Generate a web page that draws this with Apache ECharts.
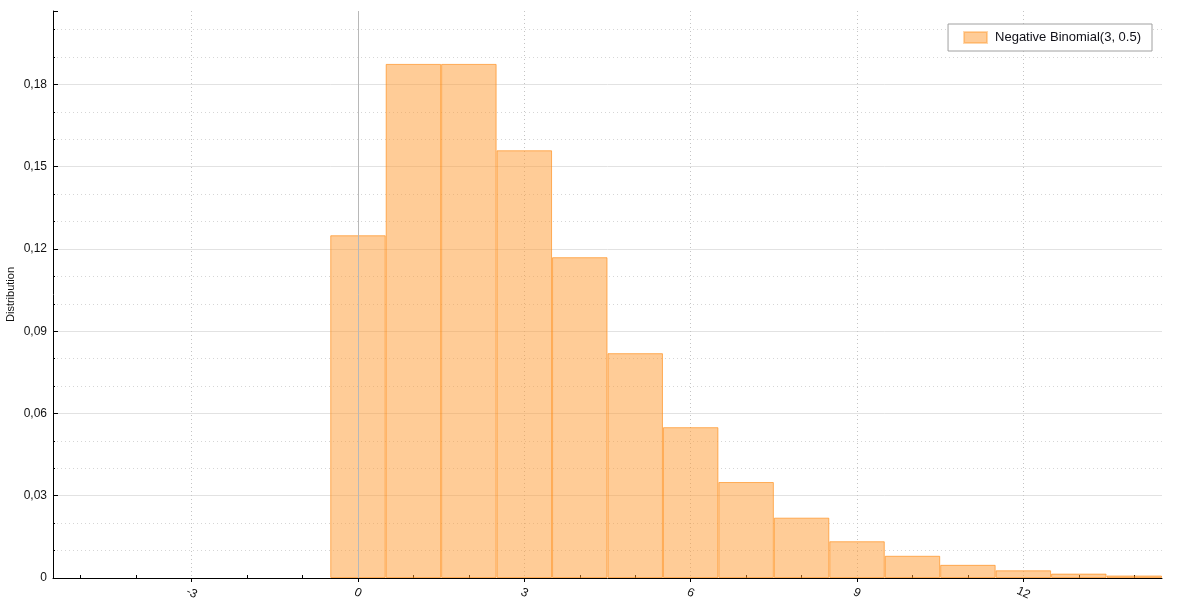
<!DOCTYPE html>
<html>
<head>
<meta charset="utf-8">
<script src="https://cdn.jsdelivr.net/npm/echarts@6/dist/echarts.min.js"></script>
<style>
    html, body { margin: 0; padding: 0; background: #fff; }
    #chart { width: 1180px; height: 609px; }
</style>
</head>
<body>
<div id="chart"></div>
<script>
// values
const seriesName = 'Negative Binomial(3, 0.5)'
const kValues = [0, 1, 2, 3, 4, 5, 6, 7, 8, 9, 10, 11, 12, 13, 14]
const probValues = [0.125, 0.1875, 0.1875, 0.156, 0.117, 0.082, 0.055, 0.035, 0.022, 0.0134, 0.0081, 0.0048, 0.0028, 0.0016, 0.0009]
const yAxisTitle = 'Distribution'

const font = 'Liberation Sans, Arial, sans-serif'
const chart = echarts.init(document.getElementById('chart'))

const barData = kValues.map((k, i) => [k, probValues[i]])

const option = {
    animation: false,
    backgroundColor: '#fff',
    textStyle: { fontFamily: font },
    grid: { left: 53, right: 18, top: 11, bottom: 31, outerBoundsMode: 'none', containLabel: false },
    legend: {
        right: 28,
        top: 24,
        orient: 'horizontal',
        padding: [7, 11, 7, 15],
        borderColor: '#a0a0a0',
        borderWidth: 1,
        backgroundColor: '#fff',
        itemWidth: 23,
        itemHeight: 11,
        itemGap: 10,
        textStyle: { fontSize: 13, color: '#101018', fontFamily: font, padding: [0, 0, 0, 3] },
        itemStyle: { borderColor: 'rgba(255, 140, 20, 0.35)' },
        data: [{ name: seriesName, icon: 'rect' }]
    },
    xAxis: [
        {
            type: 'value',
            min: -5.5,
            max: 14.5,
            splitNumber: 7,
            axisLine: { onZero: false, lineStyle: { color: '#000', width: 1 } },
            axisTick: { show: true, inside: false, length: 4, lineStyle: { color: '#000' } },
            axisLabel: {
                color: '#111',
                fontSize: 12,
                rotate: -25,
                align: 'center',
                margin: 15,
                showMinLabel: false,
                showMaxLabel: false,
                formatter: (v) => String(v)
            },
            splitLine: {
                show: true,
                showMinLine: false,
                showMaxLine: false,
                lineStyle: { color: '#c4c4c4', type: [1, 3], width: 1 }
            }
        },
        {
            // only carries the small inner ticks
            type: 'value',
            position: 'bottom',
            min: -5.5,
            max: 14.5,
            splitNumber: 7,
            axisLine: { show: false },
            axisTick: { show: false, inside: true },
            axisLabel: { show: false },
            splitLine: { show: false },
            minorTick: { show: true, splitNumber: 3, length: 3, lineStyle: { color: '#000' } }
        }
    ],
    yAxis: {
        type: 'value',
        min: 0,
        max: 0.2068,
        interval: 0.03,
        name: yAxisTitle,
        nameLocation: 'middle',
        nameGap: 37,
        nameMoveOverlap: false,
        nameTextStyle: { fontSize: 11, color: '#111' },
        axisLine: { show: true, onZero: false, lineStyle: { color: '#000', width: 1 } },
        axisTick: { show: true, inside: true, length: 5, lineStyle: { color: '#000' } },
        minorTick: { show: true, splitNumber: 3, length: 2, lineStyle: { color: '#000' } },
        axisLabel: {
            color: '#111',
            fontSize: 12,
            margin: 6,
            showMaxLabel: false,
            formatter: (v) => String(Number(v.toFixed(4))).replace('.', ',')
        },
        splitLine: {
            show: true,
            showMaxLine: false,
            lineStyle: { color: '#e2e2e2', width: 1 }
        },
        minorSplitLine: {
            show: true,
            lineStyle: { color: '#d6d6d6', type: [1, 3], width: 1 }
        }
    },
    series: [
        {
            name: seriesName,
            type: 'bar',
            xAxisIndex: 0,
            yAxisIndex: 0,
            barWidth: '100%',
            data: barData,
            itemStyle: {
                color: 'rgba(255, 154, 48, 0.5)',
                borderColor: 'rgba(255, 140, 20, 0.65)',
                borderWidth: 1
            },
            emphasis: { disabled: true },
            markLine: {
                silent: true,
                symbol: 'none',
                label: { show: false },
                lineStyle: { color: '#b8b8b8', type: 'solid', width: 1 },
                data: [{ xAxis: 0 }]
            }
        }
    ]
}
chart.setOption(option)
</script>
</body>
</html>
